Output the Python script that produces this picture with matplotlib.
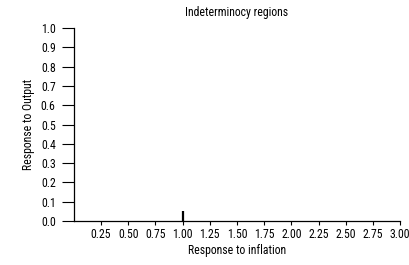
import matplotlib
matplotlib.use("Agg")
import matplotlib.pyplot as plt

plt.rcParams['font.family'] = ['Roboto Condensed', 'DejaVu Sans']

title = "Indeterminocy regions"
xlabel = "Response to inflation"
ylabel = "Response to Output"
xticks = [0.25, 0.50, 0.75, 1.00, 1.25, 1.50, 1.75, 2.00, 2.25, 2.50, 2.75, 3.00]
yticks = [0.0, 0.1, 0.2, 0.3, 0.4, 0.5, 0.6, 0.7, 0.8, 0.9, 1.0]
mark_x = [1.0, 1.0]
mark_y = [0.0, 0.05]

fig = plt.figure(figsize=(4.10, 2.65), dpi=100)
ax = fig.add_axes([0.180, 0.166, 0.796, 0.728])
ax.plot(mark_x, mark_y, color='black', linewidth=1.6, solid_capstyle='butt')
ax.set_xlim(0, 3.0)
ax.set_ylim(0, 1.0)
ax.set_xticks(xticks)
ax.set_xticklabels([f"{v:.2f}" for v in xticks], fontsize=8.5)
ax.set_yticks(yticks)
ax.set_yticklabels([f"{v:.1f}" for v in yticks], fontsize=8.5)
ax.spines['top'].set_visible(False)
ax.spines['right'].set_visible(False)
ax.spines['left'].set_linewidth(0.9)
ax.spines['bottom'].set_linewidth(0.9)
ax.tick_params(axis='y', length=9, width=0.8, pad=4)
ax.tick_params(axis='x', length=3, width=0.8, pad=2)
ax.set_xlabel(xlabel, fontsize=8.5, labelpad=2)
ax.set_ylabel(ylabel, fontsize=8.5, labelpad=4.5)
ax.set_title(title, fontsize=8.5, pad=8.5)
fig.savefig("out.png", dpi=100)
